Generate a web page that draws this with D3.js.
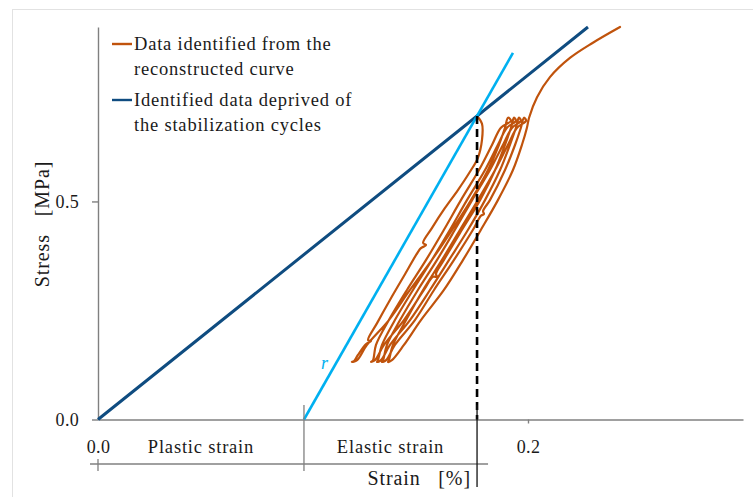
<!DOCTYPE html>
<html>
<head>
<meta charset="utf-8">
<script src="https://cdn.jsdelivr.net/npm/d3@7"></script>
<style>
  html, body { margin: 0; padding: 0; background: #fff; }
  svg { display: block; }
  text { font-family: "Liberation Serif", "Times New Roman", serif; fill: #1a1a1a; }
</style>
</head>
<body>
<svg id="chart" width="753" height="497"></svg>
<script>
// ---- axis settings ----
const strainDomain = [0, 0.3];
const stressDomain = [0, 0.9];
const strainTicks = [0, 0.2];
const stressTicks = [0, 0.5];

// ---- identified curve deprived of the stabilization cycles ----
const identifiedStrain = [0, 0.1763, 0.2279];
const identifiedStress = [0, 0.696, 0.9];

// ---- elastic line r ----
const rStrain = [0.0958, 0.193];
const rStress = [0, 0.8406];

// ---- point where unloading starts ----
const peakStrain = 0.1763;
const peakStress = 0.696;

// ---- reconstructed curve: stabilization cycles [strain %, stress MPa] ----
const unloading1 = [[0.1763,0.696],[0.1786,0.678],[0.1786,0.641],[0.1767,0.600],[0.1730,0.568],[0.1674,0.526],[0.1614,0.485],[0.1553,0.439],[0.1512,0.405],[0.1526,0.400],[0.1502,0.393],[0.1488,0.384],[0.1423,0.329],[0.1358,0.274],[0.1298,0.221],[0.1256,0.182],[0.1270,0.180],[0.1247,0.173],[0.1209,0.148],[0.1191,0.134],[0.1181,0.132]];
const reloading1 = [[0.1205,0.136],[0.1251,0.171],[0.1353,0.228],[0.1451,0.297],[0.1553,0.366],[0.1647,0.435],[0.1735,0.503],[0.1814,0.572],[0.1865,0.630],[0.1893,0.669],[0.1907,0.692],[0.1921,0.685]];
const unloading2 = [[0.1874,0.669],[0.1833,0.630],[0.1772,0.572],[0.1688,0.503],[0.1609,0.435],[0.1526,0.366],[0.1437,0.297],[0.1353,0.228],[0.1293,0.171],[0.1279,0.136],[0.1270,0.132]];
const reloading2 = [[0.1288,0.136],[0.1330,0.171],[0.1423,0.228],[0.1516,0.297],[0.1558,0.327],[0.1577,0.327],[0.1572,0.334],[0.1609,0.366],[0.1693,0.435],[0.1777,0.503],[0.1847,0.572],[0.1893,0.630],[0.1921,0.669],[0.1935,0.692],[0.1944,0.685]];
const unloading3 = [[0.1902,0.669],[0.1860,0.630],[0.1800,0.572],[0.1716,0.503],[0.1637,0.435],[0.1553,0.366],[0.1465,0.297],[0.1381,0.228],[0.1321,0.171],[0.1302,0.136],[0.1298,0.132]];
const reloading3 = [[0.1316,0.136],[0.1358,0.171],[0.1451,0.228],[0.1544,0.297],[0.1633,0.366],[0.1721,0.435],[0.1800,0.503],[0.1870,0.572],[0.1916,0.630],[0.1944,0.669],[0.1958,0.692],[0.1967,0.685]];
const unloading4 = [[0.1926,0.669],[0.1884,0.630],[0.1823,0.572],[0.1740,0.503],[0.1660,0.435],[0.1577,0.366],[0.1488,0.297],[0.1405,0.228],[0.1344,0.171],[0.1326,0.136],[0.1321,0.132]];
const reloading4 = [[0.1340,0.136],[0.1381,0.171],[0.1474,0.228],[0.1563,0.297],[0.1656,0.366],[0.1744,0.435],[0.1781,0.467],[0.1795,0.471],[0.1791,0.478],[0.1823,0.503],[0.1893,0.572],[0.1940,0.630],[0.1967,0.669],[0.1981,0.692],[0.1991,0.685]];
const unloading5 = [[0.1949,0.669],[0.1907,0.630],[0.1847,0.572],[0.1767,0.503],[0.1684,0.435],[0.1600,0.366],[0.1512,0.297],[0.1433,0.228],[0.1372,0.171],[0.1353,0.136],[0.1349,0.132]];
const finalLoading = [[0.1367,0.136],[0.1423,0.171],[0.1502,0.228],[0.1609,0.297],[0.1698,0.366],[0.1781,0.435],[0.1860,0.503],[0.1930,0.572],[0.1972,0.630],[0.1995,0.669],[0.2005,0.692],[0.2042,0.739],[0.2102,0.785],[0.2195,0.829],[0.2302,0.864],[0.2428,0.900]];

// ---- texts ----
const legendLabels = [
  ["Data identified from the", "reconstructed curve"],
  ["Identified data deprived of", "the stabilization cycles"]
];
const xTitle = "Strain   [%]";
const yTitle = "Stress   [MPa]";
const zoneLabels = ["Plastic strain", "Elastic strain"];

const colors = { cycles: "#c0530c", identified: "#0f4c80", elastic: "#00b0f0", axis: "#808080" };

const svg = d3.select("#chart");

// light frame
svg.append("rect").attr("x", 12.5).attr("y", 9.5).attr("width", 800).attr("height", 600)
  .attr("fill", "none").attr("stroke", "#e2e2e2").attr("stroke-width", 1);

const x = d3.scaleLinear().domain(strainDomain).range([98, 743]);
const y = d3.scaleLinear().domain(stressDomain).range([419.5, 27]);

const fmt = d3.format(".1f");

// y axis
const yAxis = svg.append("g").attr("transform", `translate(${x(0)},0)`)
  .call(d3.axisLeft(y).tickValues(stressTicks).tickFormat(fmt).tickSize(6).tickSizeOuter(0).tickPadding(13));
// x axis
const xAxis = svg.append("g").attr("transform", `translate(0,${y(0)})`)
  .call(d3.axisBottom(x).tickValues(strainTicks).tickFormat(fmt).tickSize(4).tickSizeOuter(0).tickPadding(17));
xAxis.selectAll(".tick").filter(d => d === 0).select("line").remove();

[yAxis, xAxis].forEach(g => {
  g.select(".domain").attr("stroke", colors.axis).attr("stroke-width", 1.4);
  g.selectAll(".tick line").attr("stroke", colors.axis).attr("stroke-width", 1.4);
  g.selectAll(".tick text").attr("font-size", 18).style("letter-spacing", "0.3px").attr("fill", "#1a1a1a");
});

// reconstructed curve with cycles
const cyclePath = [].concat(unloading1, reloading1, unloading2, reloading2, unloading3,
  reloading3, unloading4, reloading4, unloading5, finalLoading);
const line = d3.line().x(d => x(d[0])).y(d => y(d[1])).curve(d3.curveCatmullRom.alpha(0.5));
svg.append("path").datum(cyclePath).attr("d", line)
  .attr("fill", "none").attr("stroke", colors.cycles).attr("stroke-width", 2.2)
  .attr("stroke-linejoin", "round").attr("stroke-linecap", "round");

// identified data without cycles
const straight = d3.line().x(d => x(d[0])).y(d => y(d[1]));
svg.append("path").datum(identifiedStrain.map((s, i) => [s, identifiedStress[i]])).attr("d", straight)
  .attr("fill", "none").attr("stroke", colors.identified).attr("stroke-width", 3);

// elastic line r
svg.append("path").datum(rStrain.map((s, i) => [s, rStress[i]])).attr("d", straight)
  .attr("fill", "none").attr("stroke", colors.elastic).attr("stroke-width", 2.6);
svg.append("text").attr("x", x(rStrain[0]) + 17).attr("y", 369)
  .attr("font-size", 18).attr("font-style", "italic").style("fill", colors.elastic).text("r");

// vertical dashed line at unloading point
svg.append("line").attr("x1", x(peakStrain)).attr("x2", x(peakStrain))
  .attr("y1", y(peakStress)).attr("y2", y(0))
  .attr("stroke", "#000").attr("stroke-width", 2.6).attr("stroke-dasharray", "8,5");

// strain partition under the x axis
const bracketY = 464;
const part = svg.append("g").attr("stroke", colors.axis).attr("stroke-width", 1.3);
part.append("line").attr("x1", x(0) - 8).attr("x2", x(peakStrain) + 11).attr("y1", bracketY).attr("y2", bracketY);
part.append("line").attr("x1", x(0)).attr("x2", x(0)).attr("y1", bracketY - 5).attr("y2", bracketY + 7);
part.append("line").attr("x1", x(rStrain[0])).attr("x2", x(rStrain[0])).attr("y1", 405).attr("y2", bracketY + 7);
svg.append("line").attr("x1", x(peakStrain)).attr("x2", x(peakStrain)).attr("y1", 405).attr("y2", 487)
  .attr("stroke", "#111").attr("stroke-width", 1.3);

svg.append("text").attr("x", (x(0) + x(rStrain[0])) / 2).attr("y", 453)
  .attr("text-anchor", "middle").attr("font-size", 18.5).style("letter-spacing", "0.8px").text(zoneLabels[0]);
svg.append("text").attr("x", (x(rStrain[0]) + x(peakStrain)) / 2).attr("y", 453)
  .attr("text-anchor", "middle").attr("font-size", 18.5).style("letter-spacing", "0.8px").text(zoneLabels[1]);

// axis titles
svg.append("text").attr("x", 471).attr("y", 485).attr("text-anchor", "end")
  .attr("font-size", 20).style("letter-spacing", "0.9px").style("white-space", "pre").text(xTitle);
svg.append("text").attr("transform", "translate(49,224) rotate(-90)").attr("text-anchor", "middle")
  .attr("font-size", 20).style("letter-spacing", "0.9px").style("white-space", "pre").text(yTitle);

// legend
const legend = svg.append("g");
const legendRows = [
  { color: colors.cycles, y: 44, lines: legendLabels[0] },
  { color: colors.identified, y: 100, lines: legendLabels[1] }
];
legendRows.forEach(r => {
  legend.append("line").attr("x1", 112).attr("x2", 132).attr("y1", r.y).attr("y2", r.y)
    .attr("stroke", r.color).attr("stroke-width", 2.4);
  r.lines.forEach((t, i) => {
    legend.append("text").attr("x", 134).attr("y", r.y + 6 + i * 25)
      .attr("font-size", 18.5).style("letter-spacing", "0.8px").text(t);
  });
});
</script>
</body>
</html>
